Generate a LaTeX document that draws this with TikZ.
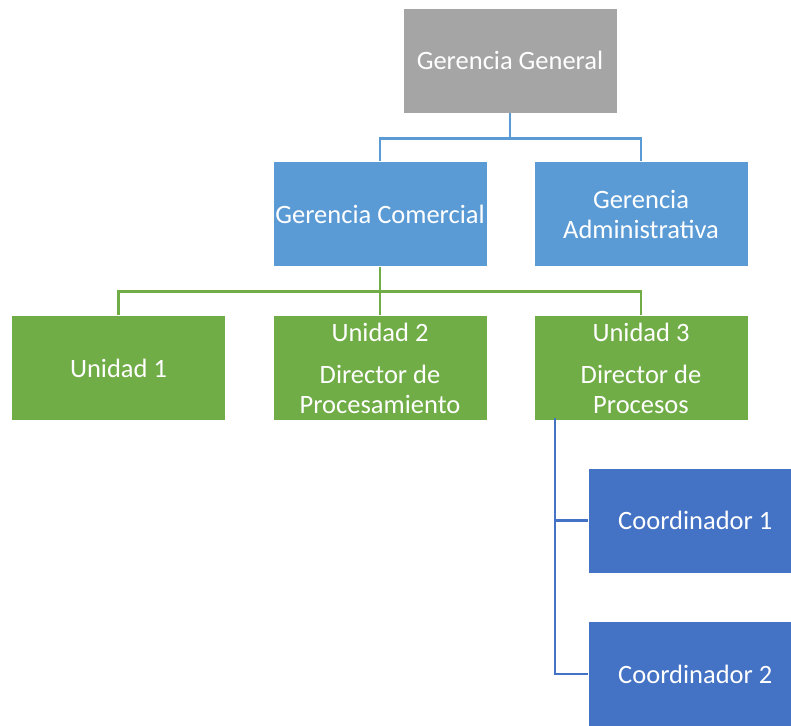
\documentclass[tikz,border=0pt]{standalone}
\usepackage{fontspec}
\setmainfont{Carlito}
\definecolor{boxgray}{HTML}{A5A5A5}
\definecolor{boxblue}{HTML}{5B9BD5}
\definecolor{boxgreen}{HTML}{70AD47}
\definecolor{boxdark}{HTML}{4472C4}
\tikzset{
  orgbox/.style={draw=white, line width=0.6pt, minimum width=214pt, minimum height=105pt,
    inner sep=0pt, text=white, align=center, font=\fontsize{26.5}{30}\selectfont},
  link/.style={line width=2.8pt},
}
\begin{document}
\begin{tikzpicture}[x=1pt,y=-1pt]
\clip (0,0) rectangle (791,725);
\useasboundingbox (0,0) rectangle (791,725);
% boxes
\node[orgbox, fill=boxgray]  (gg) at (510,60.5) {Gerencia General};
\node[orgbox, fill=boxblue]  (gc) at (380,214) {Gerencia Comercial};
\node[orgbox, fill=boxblue]  (ga) at (641,214) {Gerencia\\Administrativa};
\node[orgbox, fill=boxgreen] (u1) at (118.5,368) {Unidad 1};
\node[orgbox, fill=boxgreen] (u2) at (380,368) {Unidad 2\\[12pt]Director de\\Procesamiento};
\node[orgbox, fill=boxgreen] (u3) at (641,368) {Unidad 3\\[12pt]Director de\\Procesos};
\node[orgbox, fill=boxdark, anchor=west] (c1) at (588,520.5) {Coordinador 1};
\node[orgbox, fill=boxdark, anchor=west] (c2) at (588,674) {Coordinador 2};
% connectors
\draw[link, boxblue] (gg.south) -- ++(0,25) -| (gc.north);
\draw[link, boxblue] (gg.south) ++(0,25) -| (ga.north);
\draw[link, boxgreen] (gc.south) -- (u2.north);
\draw[link, boxgreen] (gc.south) ++(0,25) -| (u1.north);
\draw[link, boxgreen] (gc.south) ++(0,25) -| (u3.north);
\coordinate (trunk) at ([xshift=-86pt]u3.south);
\draw[link, boxdark] ([yshift=3pt]trunk) |- (c2.west);
\draw[link, boxdark] (trunk |- c1.west) -- (c1.west);
\end{tikzpicture}
\end{document}
